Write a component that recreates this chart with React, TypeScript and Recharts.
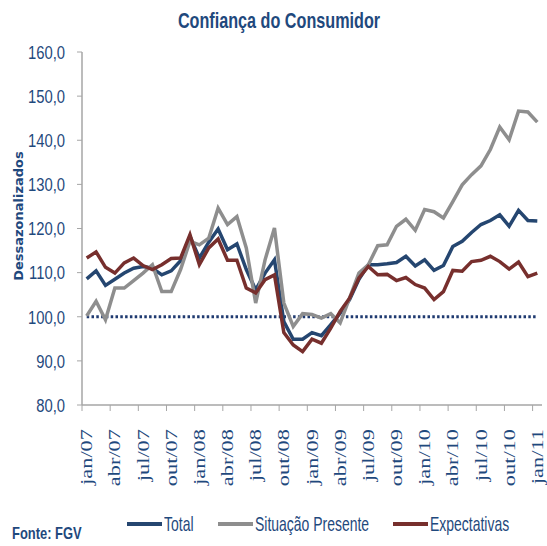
import React from "react";
import { LineChart, Line, XAxis, YAxis, ReferenceLine } from "recharts";

// meses (jan/07 .. jan/11)
const months = [
  "jan/07", "fev/07", "mar/07", "abr/07", "mai/07", "jun/07", "jul/07", "ago/07", "set/07", "out/07", "nov/07", "dez/07",
  "jan/08", "fev/08", "mar/08", "abr/08", "mai/08", "jun/08", "jul/08", "ago/08", "set/08", "out/08", "nov/08", "dez/08",
  "jan/09", "fev/09", "mar/09", "abr/09", "mai/09", "jun/09", "jul/09", "ago/09", "set/09", "out/09", "nov/09", "dez/09",
  "jan/10", "fev/10", "mar/10", "abr/10", "mai/10", "jun/10", "jul/10", "ago/10", "set/10", "out/10", "nov/10", "dez/10",
  "jan/11",
];

const total = [
  108.6, 110.4, 107.1, 108.5, 109.9, 111.0, 111.4, 111.0, 109.5, 110.4, 112.7, 118.2,
  113.3, 116.9, 119.9, 115.2, 116.5, 110.7, 106.1, 109.9, 112.9, 98.9, 94.9, 94.9,
  96.4, 95.7, 98.2, 100.8, 103.9, 108.5, 111.8, 111.8, 112.0, 112.3, 113.7, 111.5,
  112.9, 110.5, 111.6, 115.9, 117.1, 119.1, 120.9, 121.8, 123.1, 120.5, 124.1, 121.8,
  121.7,
];

const presente = [
  100.2, 103.5, 99.3, 106.5, 106.5, 108.2, 109.9, 111.8, 105.7, 105.7, 110.7, 117.1,
  116.3, 117.8, 124.6, 120.9, 122.7, 115.6, 103.1, 112.9, 120.1, 103.1, 97.8, 100.7,
  100.5, 99.7, 100.7, 98.6, 104.2, 109.9, 111.8, 116.1, 116.3, 120.5, 122.1, 119.6,
  124.3, 123.8, 122.4, 126.1, 129.9, 132.2, 134.2, 137.9, 143.0, 140.1, 146.6, 146.4,
  144.1,
];

const expectativas = [
  113.3, 114.7, 111.2, 109.9, 112.2, 113.3, 111.6, 110.7, 111.8, 113.2, 113.3, 118.6,
  111.8, 115.6, 117.6, 112.8, 112.8, 106.5, 105.4, 108.4, 109.5, 96.4, 93.6, 92.1,
  94.9, 94.0, 97.4, 101.2, 104.2, 108.8, 111.4, 109.5, 109.6, 108.2, 108.9, 107.3,
  106.5, 103.9, 105.7, 110.5, 110.3, 112.5, 112.8, 113.7, 112.5, 110.8, 112.4, 109.1,
  109.9,
];

const yTicks = [80, 90, 100, 110, 120, 130, 140, 150, 160];

const data = months.map((month, i) => ({
  month,
  total: total[i],
  presente: presente[i],
  expectativas: expectativas[i],
}));

const NAVY = "#1F497D";
const AXIS = "#A6A6A6";
const SANS = "'Liberation Sans', Arial, sans-serif";

const series = [
  { key: "total", name: "Total", color: "#254670" },
  { key: "presente", name: "Situação Presente", color: "#8E8E8E" },
  { key: "expectativas", name: "Expectativas", color: "#772F2D" },
];

// legend item positions (swatch left edge)
const legendLeft = [127, 218, 393];

const MonthTick = (props: any) => {
  const { x, y, payload } = props;
  return (
    <g>
      <line x1={x - 4.7} x2={x - 4.7} y1={y} y2={y + 6} stroke={AXIS} />
      <text
        transform={`translate(${x},${y + 24}) rotate(-90) scale(1.4,1)`}
        textAnchor="end"
        dy="0.35em"
        fill={NAVY}
        fontSize={16}
        fontFamily="'Liberation Serif', serif"
      >
        {payload.value}
      </text>
    </g>
  );
};

// no narrow font installed: squeeze Liberation Sans horizontally instead
const ValueTick = (props: any) => {
  const { x, y, payload } = props;
  return (
    <text
      transform={`translate(${x},${y}) scale(0.78,1)`}
      textAnchor="end"
      dy="0.36em"
      fill={NAVY}
      fontSize={19}
      fontFamily={SANS}
    >
      {payload.value.toFixed(1).replace(".", ",")}
    </text>
  );
};

const narrow = (k: number, origin: string): React.CSSProperties => ({
  transform: `scaleX(${k})`,
  transformOrigin: origin,
  whiteSpace: "nowrap",
});

const App = () => {
  return (
    <div
      style={{
        position: "absolute",
        left: 0,
        top: 0,
        width: 547,
        height: 546,
        background: "#fff",
        overflow: "hidden",
        fontFamily: SANS,
        color: NAVY,
      }}
    >
      <LineChart width={547} height={546} data={data} margin={{ top: 52, right: 5, bottom: 41, left: 0 }}>
        <XAxis
          dataKey="month"
          interval={2}
          height={100}
          tickSize={0}
          tickMargin={0}
          tickLine={false}
          axisLine={{ stroke: AXIS, strokeWidth: 1.5 }}
          padding={{ left: 4.7, right: 4.7 }}
          tick={<MonthTick />}
        />
        <YAxis
          domain={[80, 160]}
          ticks={yTicks}
          width={82}
          tickSize={5}
          tickMargin={12}
          axisLine={{ stroke: AXIS, strokeWidth: 1.5 }}
          tickLine={{ stroke: AXIS }}
          tick={<ValueTick />}
        />
        <ReferenceLine
          segment={[
            { x: months[0], y: 100 },
            { x: months[months.length - 1], y: 100 },
          ]}
          stroke="#1F3A70"
          strokeWidth={3}
          strokeDasharray="2.5 2.3"
        />
        {series.map((s) => (
          <Line
            key={s.key}
            type="linear"
            dataKey={s.key}
            name={s.name}
            stroke={s.color}
            strokeWidth={3.5}
            dot={false}
            isAnimationActive={false}
          />
        ))}
      </LineChart>

      <div
        style={{
          position: "absolute",
          left: 129,
          width: 300,
          top: 10,
          textAlign: "center",
          fontSize: 22,
          lineHeight: "22px",
          fontWeight: "bold",
          ...narrow(0.735, "center"),
        }}
      >
        Confiança do Consumidor
      </div>

      <div
        style={{
          position: "absolute",
          left: 18.5 - 80,
          top: 216 - 10,
          width: 160,
          height: 20,
          lineHeight: "20px",
          textAlign: "center",
          transform: "rotate(-90deg)",
          fontFamily: "'DejaVu Sans', sans-serif",
          fontWeight: "bold",
          fontSize: 13,
          whiteSpace: "nowrap",
        }}
      >
        Dessazonalizados
      </div>

      {series.map((s, i) => (
        <div
          key={s.key}
          style={{
            position: "absolute",
            left: legendLeft[i],
            top: 514,
            height: 20,
            display: "flex",
            alignItems: "center",
          }}
        >
          <div style={{ width: 35, height: 4, background: s.color, marginRight: 2 }} />
          <span style={{ fontSize: 21, lineHeight: "20px", ...narrow(0.665, "left center") }}>{s.name}</span>
        </div>
      ))}

      <div
        style={{
          position: "absolute",
          left: 12,
          top: 525,
          fontSize: 17,
          lineHeight: "18px",
          fontWeight: "bold",
          ...narrow(0.76, "left center"),
        }}
      >
        Fonte: FGV
      </div>
    </div>
  );
};

export default App;
